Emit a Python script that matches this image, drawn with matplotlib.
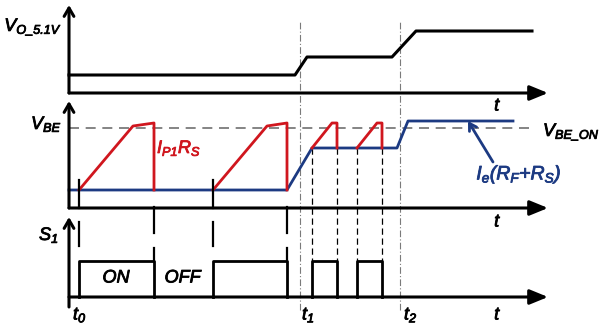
import numpy as np
import matplotlib.pyplot as plt
import matplotlib.patheffects as pe

plt.rcParams['font.family'] = ['Liberation Sans', 'DejaVu Sans']
plt.rcParams['mathtext.fontset'] = 'custom'
plt.rcParams['mathtext.it'] = 'Liberation Sans:italic'
plt.rcParams['mathtext.rm'] = 'Liberation Sans:italic'
plt.rcParams['mathtext.sf'] = 'Liberation Sans:italic'

### data (time in arbitrary units, levels in panel units)
t_end = 47.9
t1, t2 = 23.1, 33.1
on_times = [(1.0, 8.5), (14.4, 21.8), (24.3, 26.8), (28.8, 31.3)]

# output voltage V_O_5.1V
vo_t = [0, 22.6, 23.8, 32.3, 34.7, 46.3]
vo_v = [18, 18, 36, 36, 62, 62]

# emitter sense voltage Ie(RF+RS)
ie_t = [0, 21.8, 24.3, 32.8, 33.9, 44.4]
ie_v = [18, 18, 60, 60, 87, 87]

# primary current sense IP1*RS
ramp_t = [[1.0, 6.4, 8.5, 8.5], [14.4, 19.8, 21.8, 21.8],
          [24.3, 26.3, 26.8, 26.8], [28.8, 30.8, 31.3, 31.3]]
ramp_v = [[18, 82, 85, 18], [18, 82, 85, 18],
          [60, 85, 85, 60], [60, 85, 85, 60]]
vbe_on = 80
vbe_end = 46.1
s1_high = 36
###

red = '#d0161e'
blue = '#1c3a82'
base_vo, base_vbe, base_s1 = 232, 117, 28

fig = plt.figure(figsize=(6.06, 3.25), dpi=100)
ax = fig.add_axes([0, 0, 1, 1])
ax.set_xlim(-6.9, 53.7)
ax.set_ylim(0, 325)
ax.axis('off')

def harrow(y):
    ax.annotate('', xy=(t_end, y), xytext=(0, y),
                arrowprops=dict(arrowstyle='-|>,head_length=1.1,head_width=0.45',
                                lw=2.2, color='k', shrinkA=0, shrinkB=0))

def varrow(y0, y1):
    ax.annotate('', xy=(0, y1), xytext=(0, y0),
                arrowprops=dict(arrowstyle='->,head_length=0.6,head_width=0.35',
                                lw=2.2, color='k', shrinkA=0, shrinkB=0))

# axes
harrow(base_vo); varrow(base_vo, 320)
harrow(base_vbe); varrow(base_vbe, 224)
harrow(base_s1); varrow(18, 108)

# time marker lines
for tm in (t1, t2):
    ax.plot([tm, tm], [15, 305], color='#7a7a7a', lw=0.8,
            linestyle=(0, (6, 2, 1, 2)))
for a, b in on_times[2:]:
    for tm in (a, b):
        ax.plot([tm, tm], [base_vbe + 60, base_s1 + s1_high], color='k',
                lw=0.9, linestyle=(0, (5, 3)))

# V_BE_ON threshold
ax.plot([0, vbe_end], [base_vbe + vbe_on] * 2, color='#707070', lw=1.2,
        linestyle=(0, (6, 4)))

# top panel
ax.plot(vo_t, np.array(vo_v) + base_vo, color='k', lw=2.2)

# middle panel
ax.plot(ie_t, np.array(ie_v) + base_vbe, color=blue, lw=2.0)
for rt, rv in zip(ramp_t, ramp_v):
    ax.plot(rt, np.array(rv) + base_vbe, color=red, lw=2.0)

# long-period switching marks
for a, b in on_times[:2]:
    ax.plot([a, a], [base_vbe, base_vbe + 28], color='k', lw=1.6)
    ax.plot([a, a], [base_s1 + 51, base_s1 + 75], color='k', lw=1.6)
    ax.plot([b, b], [base_s1 + 64, base_s1 + 90], color='k', lw=1.6)
    ax.plot([b, b], [base_s1 + s1_high, base_s1 + 49], color='k', lw=1.6)

# S1 pulses
for a, b in on_times:
    ax.plot([a, a, b, b], np.array([0, s1_high, s1_high, 0]) + base_s1,
            color='k', lw=2.0)

fs = 13

def label(x, y, s, color='k', **kw):
    t = ax.text(x, y, s, fontsize=fs, va='center', color=color, **kw)
    t.set_path_effects([pe.withStroke(linewidth=0.6, foreground=color)])

label(-0.7, 298, r'$V_{O\_5.1V}$', ha='right')
label(-0.7, 201, r'$V_{BE}$', ha='right')
label(47.4, 193, r'$V_{BE\_ON}$', ha='left')
label(8.8, 177, r'$I_{P1}R_S$', color=red, ha='left')
ax.annotate('', xy=(39.9, base_vbe + 87), xytext=(42.4, 163),
            arrowprops=dict(arrowstyle='->,head_length=0.5,head_width=0.3',
                            lw=2.0, color=blue, shrinkA=0, shrinkB=0))
t = ax.text(45.0, 150, r'$I_e(R_F{+}R_S)$', fontsize=14, ha='center',
            va='center', color=blue)
t.set_path_effects([pe.withStroke(linewidth=0.6, foreground=blue)])
label(-1.0, 90, r'$S_1$', ha='right')
label(4.8, 47, r'$ON$', ha='center')
label(11.5, 47, r'$OFF$', ha='center')
label(0.4, 10, r'$t_0$', ha='left')
label(t1 + 0.2, 10, r'$t_1$', ha='left')
label(t2 + 0.4, 10, r'$t_2$', ha='left')
for y in (219, 103, 10):
    label(42.9, y, r'$t$', ha='center')

fig.savefig('out.png', dpi=100)
